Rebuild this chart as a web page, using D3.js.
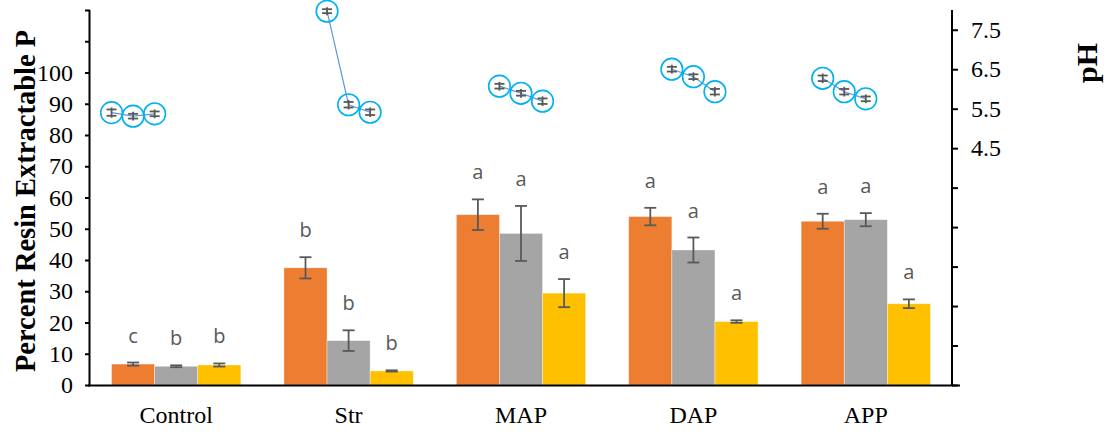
<!DOCTYPE html>
<html><head><meta charset="utf-8">
<script src="https://cdn.jsdelivr.net/npm/d3@7"></script>
<style>body{margin:0;background:#fff}svg{display:block}</style>
</head><body>
<svg id="c" width="1109" height="435"></svg>
<script>
// ---- data ----
const categories = ["Control", "Str", "MAP", "DAP", "APP"];
const seriesNames = ["Series 1", "Series 2", "Series 3"];
const series1 = [6.7, 37.5, 54.5, 53.9, 52.4];
const series2 = [6.0, 14.2, 48.5, 43.2, 52.9];
const series3 = [6.4, 4.5, 29.4, 20.3, 26.0];
const err1 = [0.5, 3.4, 4.9, 2.8, 2.4];
const err2 = [0.3, 3.3, 8.8, 4.0, 2.1];
const err3 = [0.5, 0.2, 4.5, 0.4, 1.4];
const letters1 = ["c", "b", "a", "a", "a"];
const letters2 = ["b", "b", "a", "a", "a"];
const letters3 = ["b", "b", "a", "a", "a"];
// pH scatter (x in category units, 0..5)
const phX = [[0.125, 0.25, 0.375], [1.375, 1.5, 1.625], [2.375, 2.5, 2.625], [3.375, 3.5, 3.625], [4.25, 4.375, 4.5]];
const phValues = [[5.40, 5.31, 5.37], [7.97, 5.60, 5.41], [6.07, 5.89, 5.69], [6.50, 6.31, 5.93], [6.27, 5.93, 5.75]];
const phErr = [[0.08, 0.06, 0.06], [0.05, 0.07, 0.07], [0.06, 0.06, 0.07], [0.06, 0.06, 0.07], [0.07, 0.07, 0.06]];
const leftTicks = d3.range(0, 121, 10);
const leftTickLabels = [0, 10, 20, 30, 40, 50, 60, 70, 80, 90, 100];
const rightTicks = [-1.5, -0.5, 0.5, 1.5, 2.5, 3.5, 4.5, 5.5, 6.5, 7.5];
const rightTickLabels = [4.5, 5.5, 6.5, 7.5];

// ---- layout ----
const L = 90, R = 952, T = 10, B = 385;
const colors = ["#ED7D31", "#A5A5A5", "#FFC000"];
const svg = d3.select("#c");
const x0 = d3.scaleBand().domain(categories).range([L, R]).paddingInner(0.25).paddingOuter(0.125);
const x1 = d3.scaleBand().domain(seriesNames).range([0, x0.bandwidth()]);
const xLin = d3.scaleLinear().domain([0, 5]).range([L, R]);
const y = d3.scaleLinear().domain([0, 120]).range([B, T]);
const yPh = d3.scaleLinear().domain([-1.5, 8]).range([B, T]);

const vals = [series1, series2, series3];
const errs = [err1, err2, err3];
const lets = [letters1, letters2, letters3];
const rows = [];
categories.forEach((c, i) => seriesNames.forEach((s, j) => rows.push({c, s, j, v: vals[j][i], e: errs[j][i], l: lets[j][i]})));

// bars
svg.append("g").selectAll("rect").data(rows).join("rect")
  .attr("x", d => x0(d.c) + x1(d.s)).attr("width", x1.bandwidth())
  .attr("y", d => y(d.v)).attr("height", d => B - y(d.v))
  .attr("fill", d => colors[d.j]).attr("stroke", "#fff").attr("stroke-opacity", 0.5).attr("stroke-width", 0.7);

// error bars
const eg = svg.append("g").attr("stroke", "#595959").attr("stroke-width", 1.8).attr("fill", "none");
rows.forEach(d => {
  const cx = x0(d.c) + x1(d.s) + x1.bandwidth() / 2;
  const y1 = y(d.v + d.e), y2 = y(d.v - d.e);
  eg.append("line").attr("x1", cx).attr("x2", cx).attr("y1", y1).attr("y2", y2);
  eg.append("line").attr("x1", cx - 6).attr("x2", cx + 6).attr("y1", y1).attr("y2", y1);
  eg.append("line").attr("x1", cx - 6).attr("x2", cx + 6).attr("y1", y2).attr("y2", y2);
});

// letters
svg.append("g").selectAll("text").data(rows).join("text")
  .attr("x", d => x0(d.c) + x1(d.s) + x1.bandwidth() / 2)
  .attr("y", d => y(d.v + d.e) - 20)
  .attr("text-anchor", "middle").attr("fill", "#595959")
  .attr("font-family", "'Open Sans', sans-serif").attr("font-size", 20)
  .text(d => d.l);

// pH lines + markers
const line = d3.line().x(d => xLin(d[0])).y(d => yPh(d[1]));
categories.forEach((c, i) => {
  const pts = phX[i].map((xx, k) => [xx, phValues[i][k], phErr[i][k]]);
  svg.append("path").datum(pts).attr("d", line).attr("fill", "none")
    .attr("stroke", "#5B9BD5").attr("stroke-width", 1.2);
  const g = svg.append("g");
  pts.forEach(p => {
    const cx = xLin(p[0]), cy = yPh(p[1]);
    const ya = yPh(p[1] + p[2]), yb = yPh(p[1] - p[2]);
    const m = g.append("g").attr("stroke", "#595959").attr("stroke-width", 1.8);
    m.append("line").attr("x1", cx).attr("x2", cx).attr("y1", ya - 2).attr("y2", yb + 2);
    m.append("line").attr("x1", cx - 5).attr("x2", cx + 5).attr("y1", ya).attr("y2", ya);
    m.append("line").attr("x1", cx - 5).attr("x2", cx + 5).attr("y1", yb).attr("y2", yb);
    g.append("circle").attr("cx", cx).attr("cy", cy).attr("r", 10.8)
      .attr("fill", "none").attr("stroke", "#00B0F0").attr("stroke-width", 1.6);
  });
});

// axes
const font = "'Liberation Serif', 'Times New Roman', serif";
const yAxis = d3.axisLeft(y).tickValues(leftTicks).tickSize(5).tickPadding(12)
  .tickFormat(d => leftTickLabels.includes(d) ? d : "");
const ga = svg.append("g").attr("transform", `translate(${L},0)`).call(yAxis);
ga.select(".domain").attr("d", `M-0.5,${T}V${B}`);
const yAxisR = d3.axisRight(yPh).tickValues(rightTicks).tickSize(6).tickPadding(13)
  .tickFormat(d => rightTickLabels.includes(d) ? d3.format(".1f")(d) : "");
const gr = svg.append("g").attr("transform", `translate(${R},0)`).call(yAxisR);
gr.select(".domain").attr("d", `M0,${T}V${B}`);
[ga, gr].forEach(g => {
  g.selectAll("path,line").attr("stroke", "#000").attr("stroke-width", 2);
  g.selectAll("text").attr("font-family", font).attr("font-size", 24).attr("fill", "#000");
});
gr.selectAll("text").attr("text-anchor", "start");

// x axis
svg.append("line").attr("x1", L - 2).attr("x2", R + 8).attr("y1", B + 0.5).attr("y2", B + 0.5)
  .attr("stroke", "#000").attr("stroke-width", 2);
svg.append("g").selectAll("text").data(categories).join("text")
  .attr("x", d => x0(d) + x0.bandwidth() / 2).attr("y", 423)
  .attr("text-anchor", "middle").attr("font-family", font).attr("font-size", 24).attr("fill", "#000")
  .text(d => d);

// titles
svg.append("text").attr("transform", "translate(35,201) rotate(-90)")
  .attr("text-anchor", "middle").attr("font-family", font).attr("font-weight", "bold")
  .attr("font-size", 28.5).attr("fill", "#000").text("Percent Resin Extractable P");
svg.append("text").attr("transform", "translate(1097,63) rotate(-90)")
  .attr("text-anchor", "middle").attr("font-family", font).attr("font-weight", "bold")
  .attr("font-size", 30).attr("fill", "#000").text("pH");
</script>
</body></html>
